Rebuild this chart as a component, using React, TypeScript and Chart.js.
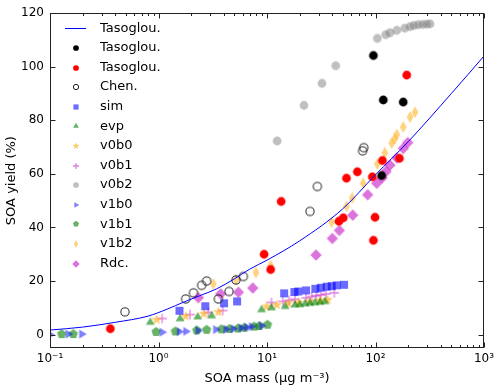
import React, { useEffect, useRef } from "react";
import { Chart, registerables } from "chart.js";
Chart.register(...registerables);

const FONT = '"DejaVu Sans", "Liberation Sans", sans-serif';

// ---- axis ticks ----
const xTickValues = [0.1, 1, 10, 100, 1000];
const xTickLabels = ["10\u207B\u00B9", "10\u2070", "10\u00B9", "10\u00B2", "10\u00B3"];
const yTickValues = [0, 20, 40, 60, 80, 100, 120];
const yTickLabels = ["0", "20", "40", "60", "80", "100", "120"];

// ---- Tasoglou fit line ----
const fitX = [0.1, 0.2, 0.4, 0.8, 1.2, 1.7, 2.5, 3.4, 5, 6.9, 10, 20, 50, 100, 200, 500, 1000];
const fitY = [1.7, 2.8, 4.6, 6.9, 9.5, 12.1, 14.8, 17, 20.8, 24.4, 27.8, 35, 47, 59.7, 72, 90, 104];

// ---- Tasoglou (black) ----
const blackX = [95.6, 118, 180, 114];
const blackY = [104.2, 87.6, 86.8, 59.4];

// ---- Tasoglou (red) ----
const redX = [0.36, 9.4, 10.8, 13.5, 46, 50.5, 54, 68, 93.5, 95.6, 99, 116, 166, 194];
const redY = [2.2, 30, 24.3, 49.7, 42.3, 43.6, 58.4, 60.8, 58.9, 35.2, 43.8, 65, 65.8, 96.9];

// ---- Chen. ----
const chenX = [0.49, 1.78, 2.1, 2.5, 2.78, 3.56, 4.47, 5.18, 6.05, 24.9, 29.1, 76, 78];
const chenY = [8.5, 13.3, 15.6, 18.4, 20, 13.3, 16.1, 20.4, 21.7, 46, 55.3, 68.6, 69.8];

// ---- sim ----
const simX = [1.56, 2.7, 4.02, 5.3, 14.4, 17.9, 19.4, 22.9, 27.9, 31.3, 35.5, 39.5, 43.9, 51.3];
const simY = [8.9, 10.6, 11.7, 12.4, 15.4, 15.9, 16.1, 16.5, 17.1, 17.5, 17.9, 18.1, 18.4, 18.6];

// ---- evp ----
const evpX = [0.84, 1.58, 2.3, 3.09, 8.9, 11, 14.7, 18.1, 20.1, 22.4, 24.9, 27.7, 30.8, 34.2];
const evpY = [4.6, 5.9, 6.6, 7, 9.3, 10, 10.5, 11.1, 11.2, 11.5, 11.7, 11.9, 12.1, 12.3];

// ---- v0b0 ----
const v0b0X = [0.96, 1.78, 2.62, 3.56, 9.9, 12.3, 15.7, 19.5, 24.9, 30.8, 36.2];
const v0b0Y = [5.6, 6.9, 7.8, 8.4, 10.5, 11.1, 11.7, 12, 12.4, 12.7, 13];

// ---- v0b1 ----
const v0b1X = [1.08, 1.95, 2.88, 3.9, 11, 14, 16, 18.1, 22.9, 25.8, 28.5, 31.3, 35, 41.7];
const v0b1Y = [6, 7.5, 8.3, 9, 12, 12.4, 12.8, 13.2, 13.7, 14.2, 14.5, 14.8, 15.2, 15.6];

// ---- v0b2 ----
const v0b2X = [12.4, 21.9, 32.1, 43, 104, 124, 136, 157, 186, 208, 226, 248, 272, 296, 318];
const v0b2Y = [72.3, 85.6, 93.8, 100.4, 110.6, 112, 112.7, 113.6, 114.4, 115, 115.4, 115.7, 115.8, 115.9, 116];

// ---- v1b0 ----
const v1b0X = [0.1, 0.147, 0.196, 1.08, 1.56, 1.79, 2.32, 3.37, 4.2, 4.9, 5.8, 6.5, 7.2, 8.9];
const v1b0Y = [0, 0.2, 0.2, 0.9, 1.1, 1.2, 1.5, 1.9, 2, 2.2, 2.5, 2.7, 3, 3.3];

// ---- v1b1 ----
const v1b1X = [0.128, 0.164, 0.95, 1.43, 2.25, 2.78, 3.8, 4.5, 5.4, 6.2, 7.6, 8.5, 10.1];
const v1b1Y = [0.2, 0.2, 1, 1.2, 1.6, 1.8, 2, 2.1, 2.3, 2.6, 3, 3.2, 3.7];

// ---- v1b2 ----
const v1b2X = [3.2, 5.2, 7.9, 10.8, 39.4, 54, 61, 77, 104, 122, 141, 150, 157, 180, 208, 231];
const v1b2Y = [18.9, 20.5, 23.2, 25.7, 42, 47.9, 51, 56.5, 63.7, 67.9, 71.5, 73, 74.7, 77.5, 81.2, 83];

// ---- Rdc. ----
const rdcX = [2.33, 3.74, 5.45, 7.4, 28.3, 40, 46.4, 61.7, 84.7, 102.6, 115, 125, 136, 157, 180, 198];
const rdcY = [13.8, 15.2, 15.8, 17.4, 29.7, 35.9, 38.9, 44.6, 52.2, 56.5, 58.5, 60.9, 63.3, 66, 69.5, 71.7];

const series = [
  { label: "Tasoglou.", xs: blackX, ys: blackY, kind: "circle", color: "#000000" },
  { label: "Tasoglou.", xs: redX, ys: redY, kind: "circle", color: "#ff0000" },
  { label: "Chen.", xs: chenX, ys: chenY, kind: "ocircle", color: "#222222" },
  { label: "sim", xs: simX, ys: simY, kind: "square", color: "rgba(0,0,255,0.58)" },
  { label: "evp", xs: evpX, ys: evpY, kind: "tri", color: "rgba(0,128,0,0.6)" },
  { label: "v0b0", xs: v0b0X, ys: v0b0Y, kind: "star", color: "rgba(255,165,0,0.6)" },
  { label: "v0b1", xs: v0b1X, ys: v0b1Y, kind: "plus", color: "rgba(191,0,191,0.5)" },
  { label: "v0b2", xs: v0b2X, ys: v0b2Y, kind: "circle", color: "rgba(128,128,128,0.5)" },
  { label: "v1b0", xs: v1b0X, ys: v1b0Y, kind: "rtri", color: "rgba(0,0,255,0.5)" },
  { label: "v1b1", xs: v1b1X, ys: v1b1Y, kind: "pent", color: "rgba(0,128,0,0.6)" },
  { label: "v1b2", xs: v1b2X, ys: v1b2Y, kind: "thind", color: "rgba(255,165,0,0.5)" },
  { label: "Rdc.", xs: rdcX, ys: rdcY, kind: "diam", color: "rgba(191,0,191,0.55)" },
];

function zip(xs: number[], ys: number[]) {
  return xs.map((x, i) => ({ x, y: ys[i] }));
}

function makeMarker(kind: string, fill: string, s: number): HTMLCanvasElement {
  const size = 2 * Math.ceil(7 * s) + 2;
  const c = document.createElement("canvas");
  c.width = size;
  c.height = size;
  const ctx = c.getContext("2d") as CanvasRenderingContext2D;
  const m = size / 2;
  ctx.fillStyle = fill;
  ctx.strokeStyle = fill;
  ctx.beginPath();
  const poly = (pts: number[][]) => {
    pts.forEach((p, i) => (i === 0 ? ctx.moveTo(p[0], p[1]) : ctx.lineTo(p[0], p[1])));
    ctx.closePath();
    ctx.fill();
  };
  if (kind === "circle") {
    ctx.arc(m, m, 4.4 * s, 0, Math.PI * 2);
    ctx.fill();
  } else if (kind === "ocircle") {
    ctx.lineWidth = 1;
    ctx.arc(m, m, 4.1 * s, 0, Math.PI * 2);
    ctx.stroke();
  } else if (kind === "square") {
    const h = 4 * s;
    ctx.rect(m - h, m - h, 2 * h, 2 * h);
    ctx.fill();
  } else if (kind === "tri") {
    const r = 5.1 * s;
    poly([[m, m - r], [m + r * 0.866, m + r * 0.5], [m - r * 0.866, m + r * 0.5]]);
  } else if (kind === "rtri") {
    const r = 5.1 * s;
    poly([[m + r, m], [m - r * 0.5, m - r * 0.866], [m - r * 0.5, m + r * 0.866]]);
  } else if (kind === "star") {
    const R = 5.6 * s, r = 2.3 * s;
    const pts: number[][] = [];
    for (let i = 0; i < 10; i++) {
      const a = -Math.PI / 2 + (i * Math.PI) / 5;
      const rr = i % 2 === 0 ? R : r;
      pts.push([m + rr * Math.cos(a), m + rr * Math.sin(a)]);
    }
    poly(pts);
  } else if (kind === "plus") {
    const r = 4.7 * s;
    ctx.lineWidth = 1.3;
    ctx.moveTo(m - r, m);
    ctx.lineTo(m + r, m);
    ctx.moveTo(m, m - r);
    ctx.lineTo(m, m + r);
    ctx.stroke();
  } else if (kind === "pent") {
    const R = 4.9 * s;
    const pts: number[][] = [];
    for (let i = 0; i < 5; i++) {
      const a = -Math.PI / 2 + (i * 2 * Math.PI) / 5;
      pts.push([m + R * Math.cos(a), m + R * Math.sin(a)]);
    }
    poly(pts);
  } else if (kind === "thind") {
    const w = 3.4 * s, h = 6.1 * s;
    poly([[m, m - h], [m + w, m], [m, m + h], [m - w, m]]);
  } else if (kind === "diam") {
    const r = 5.7 * s;
    poly([[m, m - r], [m + r, m], [m, m + r], [m - r, m]]);
  }
  return c;
}

export default function App() {
  const ref = useRef<HTMLCanvasElement | null>(null);

  useEffect(() => {
    const canvas = ref.current;
    if (!canvas) return;

    const legendMarkers = series.map((s) => makeMarker(s.kind, s.color, 0.65));

    const datasets: any[] = [
      {
        label: "Tasoglou.",
        data: zip(fitX, fitY),
        showLine: true,
        borderColor: "#0000ff",
        borderWidth: 1,
        pointRadius: 0,
        fill: false,
        cubicInterpolationMode: "monotone",
      },
      ...series.map((s) => ({
        label: s.label,
        data: zip(s.xs, s.ys),
        showLine: false,
        pointStyle: makeMarker(s.kind, s.color, 1),
        pointRadius: 4,
        backgroundColor: s.color,
        borderColor: s.color,
      })),
    ];

    const framePlugin = {
      id: "frame",
      afterDraw(chart: any) {
        const { ctx, chartArea: a, scales } = chart;
        const xs = scales.x, ys = scales.y;
        const L = Math.round(a.left) + 0.5;
        const R = Math.round(a.right) - 0.5;
        const T = Math.round(a.top) + 0.5;
        const B = Math.round(a.bottom) - 0.5;
        ctx.save();
        ctx.strokeStyle = "#222";
        ctx.lineWidth = 1;
        ctx.beginPath();
        for (const v of yTickValues) {
          const y = Math.round(ys.getPixelForValue(v)) + 0.5;
          ctx.moveTo(L, y); ctx.lineTo(L + 5, y);
          ctx.moveTo(R, y); ctx.lineTo(R - 5, y);
        }
        for (let d = 0.1; d <= 1000.001; d *= 10) {
          for (let k = 1; k <= 9; k++) {
            const v = d * k;
            if (v > 1000.001) break;
            const len = k === 1 ? 5 : 2.5;
            const x = Math.round(xs.getPixelForValue(v)) + 0.5;
            ctx.moveTo(x, B); ctx.lineTo(x, B - len);
            ctx.moveTo(x, T); ctx.lineTo(x, T + len);
          }
        }
        ctx.stroke();
        ctx.strokeRect(L, T, R - L, B - T);

        // legend
        const rowY0 = 28.3, dy = 19.6, mx = 76, tx = 100;
        ctx.font = `13px ${FONT}`;
        ctx.fillStyle = "#000";
        ctx.textBaseline = "middle";
        ctx.textAlign = "left";
        ctx.strokeStyle = "#0000ff";
        ctx.beginPath();
        ctx.moveTo(65, Math.round(rowY0) + 0.5);
        ctx.lineTo(86, Math.round(rowY0) + 0.5);
        ctx.stroke();
        ctx.fillText("Tasoglou.", tx, rowY0);
        series.forEach((s, i) => {
          const y = rowY0 + dy * (i + 1);
          const img = legendMarkers[i];
          ctx.drawImage(img, Math.round(mx - img.width / 2), Math.round(y - img.height / 2));
          ctx.fillText(s.label, tx, y);
        });
        ctx.restore();
      },
    };

    const chart = new Chart(canvas, {
      type: "scatter",
      data: { datasets },
      plugins: [framePlugin],
      options: {
        animation: false,
        responsive: false,
        events: [],
        layout: { padding: { top: 10, right: 16, left: 0, bottom: 0 } },
        plugins: { legend: { display: false }, tooltip: { enabled: false } },
        scales: {
          x: {
            type: "logarithmic",
            min: 0.1,
            max: 1000,
            grid: { display: false, drawTicks: false },
            border: { display: false },
            afterBuildTicks: (scale: any) => {
              scale.ticks = xTickValues.map((v) => ({ value: v }));
            },
            afterFit: (scale: any) => {
              scale.height = 43;
            },
            ticks: {
              autoSkip: false,
              maxRotation: 0,
              padding: 4,
              color: "#000",
              font: { family: FONT, size: 12 },
              callback: (_v: any, i: number) => xTickLabels[i],
            },
            title: {
              display: true,
              text: "SOA mass (\u03BCg m\u207B\u00B3)",
              color: "#000",
              font: { family: FONT, size: 13 },
              padding: { top: 0, bottom: 5 },
            },
          },
          y: {
            type: "linear",
            min: -5,
            max: 120,
            grid: { display: false, drawTicks: false },
            border: { display: false },
            afterBuildTicks: (scale: any) => {
              scale.ticks = yTickValues.map((v) => ({ value: v }));
            },
            afterFit: (scale: any) => {
              scale.width = 50;
            },
            ticks: {
              autoSkip: false,
              padding: 6,
              color: "#000",
              font: { family: FONT, size: 12 },
              callback: (_v: any, i: number) => yTickLabels[i],
            },
            title: {
              display: true,
              text: "SOA yield (%)",
              color: "#000",
              font: { family: FONT, size: 13 },
              padding: { top: 4, bottom: 0 },
            },
          },
        },
      } as any,
    });

    return () => chart.destroy();
  }, []);

  return (
    <div style={{ position: "absolute", left: 0, top: 0, width: 500, height: 391, background: "#fff" }}>
      <canvas ref={ref} width={500} height={391} style={{ display: "block" }} />
    </div>
  );
}
